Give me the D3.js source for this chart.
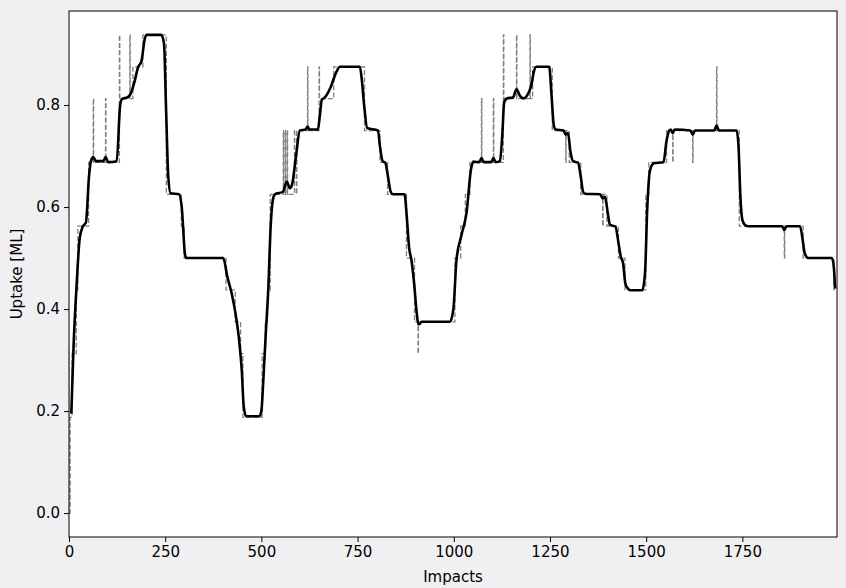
<!DOCTYPE html>
<html>
<head>
<meta charset="utf-8">
<script src="https://cdn.jsdelivr.net/npm/d3@7"></script>
<style>
  html, body { margin: 0; padding: 0; background: #f0f0f2; }
  svg { display: block; }
  text { font-family: "DejaVu Sans", sans-serif; }
</style>
</head>
<body>
<svg id="chart" width="846" height="588"></svg>
<script>
// ---- data ----
const xTicks = [0, 250, 500, 750, 1000, 1250, 1500, 1750];
const yTicks = [0.0, 0.2, 0.4, 0.6, 0.8];
const xLabel = "Impacts";
const yLabel = "Uptake [ML]";

// raw uptake (step changes: [impact, value])
const rawSteps = [
  [0,0.0],[3,0.1875],[8,0.3125],[19,0.4375],[23,0.5625],[51,0.6875],
  [63,0.8125],[64,0.6875],[95,0.8125],[96,0.6875],
  [131,0.9375],[132,0.8125],[158,0.9375],[159,0.8125],[166,0.875],[192,0.9375],
  [253,0.625],[292,0.5625],[299,0.5],
  [408,0.4375],[432,0.375],[446,0.3125],[452,0.1875],
  [502,0.3125],[510,0.375],[516,0.4375],[523,0.625],
  [557,0.75],[558,0.625],[562,0.75],[563,0.625],[567,0.75],[568,0.625],
  [586,0.75],[591,0.625],[592,0.75],
  [620,0.875],[621,0.75],[650,0.875],[651,0.8125],[688,0.875],
  [768,0.75],[808,0.6875],[828,0.625],[877,0.5],[898,0.375],[907,0.3125],[908,0.375],
  [1003,0.5],[1018,0.5625],[1030,0.625],[1042,0.6875],
  [1072,0.8125],[1073,0.6875],[1103,0.8125],[1104,0.6875],
  [1129,0.9375],[1130,0.8125],[1163,0.9375],[1164,0.8125],[1198,0.9375],[1199,0.8125],[1205,0.875],
  [1256,0.75],[1291,0.6875],[1292,0.75],[1300,0.6875],[1330,0.625],[1387,0.5625],[1388,0.625],
  [1398,0.5625],[1428,0.5],[1445,0.4375],
  [1499,0.625],[1507,0.6875],[1553,0.75],[1569,0.6875],[1570,0.75],[1621,0.6875],[1622,0.75],
  [1683,0.875],[1684,0.75],
  [1742,0.5625],[1859,0.5],[1860,0.5625],[1908,0.5],[1988,0.4375],[1990,0.4375]
];

// smoothed uptake ([impact, value])
const smoothPoints = [
  [6,0.195],[12,0.33],[20,0.45],[28,0.54],[36,0.562],[44,0.57],[52,0.66],[57,0.69],[63,0.698],[70,0.69],
  [89,0.69],[95,0.698],[102,0.688],[124,0.69],[133,0.8],[138,0.812],[152,0.815],[160,0.822],
  [170,0.845],[180,0.875],[188,0.885],[197,0.93],[202,0.9375],[240,0.9375],[247,0.92],[252,0.8],
  [258,0.66],[264,0.627],[286,0.625],[293,0.6],[302,0.505],[306,0.5],[401,0.5],[411,0.465],
  [423,0.43],[433,0.39],[442,0.34],[449,0.28],[454,0.21],[460,0.19],[495,0.19],[500,0.2],
  [505,0.26],[512,0.36],[518,0.44],[524,0.56],[530,0.615],[535,0.625],[556,0.63],[566,0.65],
  [574,0.637],[580,0.645],[590,0.7],[600,0.75],[615,0.752],[620,0.758],[625,0.752],[647,0.752],
  [652,0.78],[657,0.81],[665,0.815],[680,0.835],[695,0.865],[704,0.875],[756,0.875],[761,0.85],
  [767,0.8],[775,0.755],[803,0.75],[808,0.72],[815,0.69],[822,0.687],[829,0.66],[836,0.63],
  [842,0.625],[872,0.625],[878,0.58],[884,0.52],[890,0.496],[897,0.45],[904,0.39],[908,0.37],
  [913,0.372],[916,0.375],[990,0.375],[999,0.4],[1007,0.496],[1020,0.545],[1033,0.588],
  [1045,0.675],[1051,0.689],[1066,0.688],[1072,0.696],[1078,0.688],[1097,0.688],[1103,0.696],
  [1109,0.688],[1120,0.69],[1126,0.74],[1131,0.805],[1138,0.813],[1154,0.815],[1163,0.831],
  [1172,0.818],[1181,0.813],[1195,0.825],[1202,0.84],[1208,0.865],[1215,0.875],[1248,0.875],
  [1254,0.82],[1260,0.76],[1265,0.752],[1285,0.75],[1291,0.742],[1297,0.745],[1303,0.71],
  [1310,0.69],[1323,0.687],[1330,0.66],[1336,0.63],[1341,0.626],[1380,0.625],[1387,0.617],
  [1393,0.62],[1400,0.59],[1406,0.565],[1420,0.562],[1428,0.53],[1434,0.503],[1440,0.49],
  [1446,0.45],[1453,0.44],[1458,0.437],[1490,0.437],[1497,0.47],[1503,0.6],[1510,0.672],
  [1520,0.686],[1545,0.688],[1553,0.73],[1560,0.75],[1564,0.752],[1569,0.745],[1574,0.752],
  [1615,0.75],[1621,0.742],[1627,0.75],[1677,0.75],[1683,0.76],[1689,0.75],[1735,0.75],
  [1740,0.72],[1745,0.62],[1750,0.575],[1757,0.565],[1765,0.5625],[1853,0.5625],[1859,0.555],
  [1865,0.5625],[1900,0.5625],[1906,0.54],[1912,0.51],[1921,0.5],[1983,0.5],[1988,0.48],[1991,0.44]
];

// faint orange trace at the very start
const startTrace = [[1,0.005],[1,0.32]];

// ---- layout ----
const svg = d3.select("#chart");
const mLeft = 69, mRight = 837, mTop = 11, mBottom = 537;

const x = d3.scaleLinear().domain([0, 1996]).range([mLeft, mRight]);
const y = d3.scaleLinear().domain([-0.046875, 0.984375]).range([mBottom, mTop]);

svg.append("rect").attr("x", mLeft).attr("y", mTop)
  .attr("width", mRight - mLeft).attr("height", mBottom - mTop).attr("fill", "#ffffff");

svg.append("clipPath").attr("id", "clip")
  .append("rect").attr("x", mLeft).attr("y", mTop).attr("width", mRight - mLeft).attr("height", mBottom - mTop);

const g = svg.append("g").attr("clip-path", "url(#clip)");

g.append("path").datum(startTrace)
  .attr("d", d3.line().x(d => x(d[0])).y(d => y(d[1])))
  .attr("fill", "none").attr("stroke", "#f5a623").attr("stroke-opacity", 0.6).attr("stroke-width", 1);

g.append("path").datum(rawSteps)
  .attr("d", d3.line().curve(d3.curveStepAfter).x(d => x(d[0])).y(d => y(d[1])))
  .attr("fill", "none").attr("stroke", "#808080").attr("stroke-width", 1.3)
  .attr("stroke-dasharray", "5,2.2");

g.append("path").datum(smoothPoints)
  .attr("d", d3.line().curve(d3.curveMonotoneX).x(d => x(d[0])).y(d => y(d[1])))
  .attr("fill", "none").attr("stroke", "#000000").attr("stroke-width", 2.6)
  .attr("stroke-linejoin", "round");

// axes
const xAxis = d3.axisBottom(x).tickValues(xTicks).tickSize(5).tickPadding(4).tickFormat(d3.format("d"));
const yAxis = d3.axisLeft(y).tickValues(yTicks).tickSize(5).tickPadding(4).tickFormat(d3.format(".1f"));

const gx = svg.append("g").attr("transform", `translate(0,${mBottom})`).call(xAxis);
const gy = svg.append("g").attr("transform", `translate(${mLeft},0)`).call(yAxis);
[gx, gy].forEach(a => {
  a.select(".domain").remove();
  a.selectAll("line").attr("stroke", "#000").attr("stroke-width", 1);
  a.selectAll("text").attr("fill", "#000").style("font-size", "15px").style("font-family", "DejaVu Sans");
});

// frame
svg.append("rect").attr("x", mLeft).attr("y", mTop)
  .attr("width", mRight - mLeft).attr("height", mBottom - mTop)
  .attr("fill", "none").attr("stroke", "#000").attr("stroke-width", 1);

svg.append("text").attr("x", (mLeft + mRight) / 2).attr("y", 582)
  .attr("text-anchor", "middle").style("font-size", "15px").text(xLabel);
svg.append("text").attr("transform", `translate(22,${(mTop + mBottom) / 2}) rotate(-90)`)
  .attr("text-anchor", "middle").style("font-size", "15px").text(yLabel);
</script>
</body>
</html>
